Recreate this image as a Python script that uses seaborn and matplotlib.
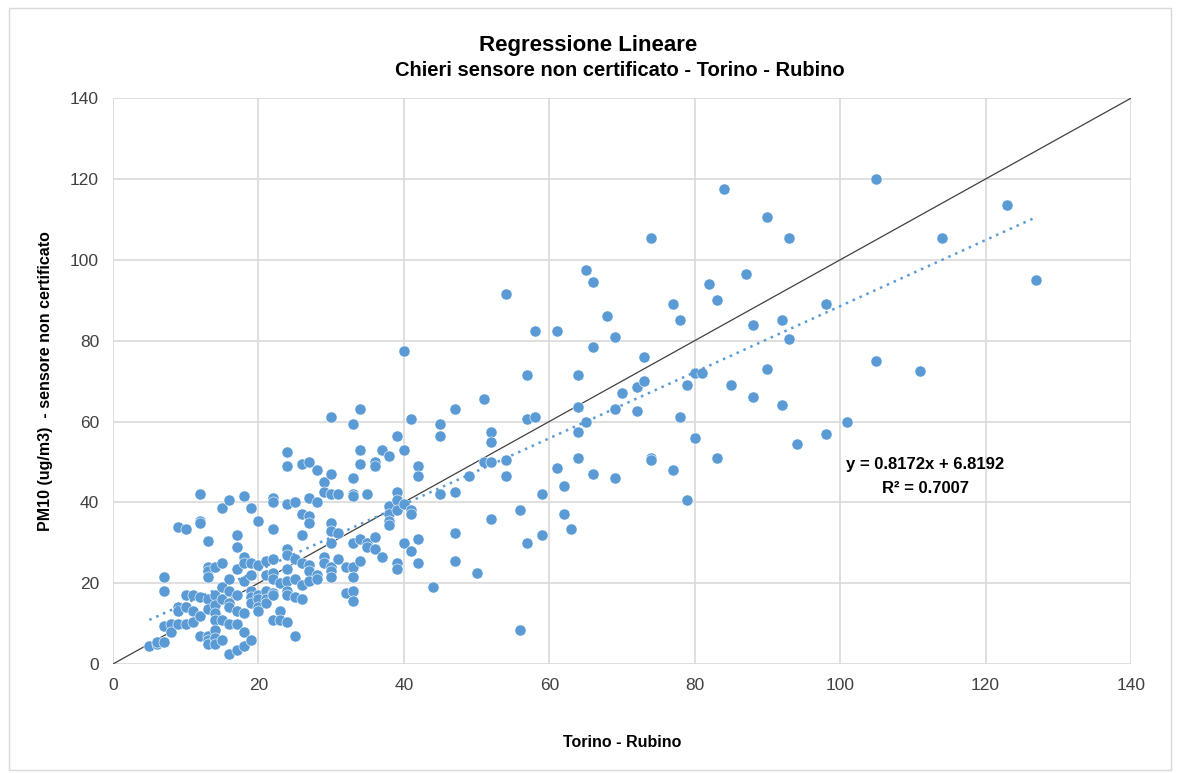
import numpy as np
import pandas as pd
import matplotlib.pyplot as plt
import seaborn as sns
from matplotlib.patches import Rectangle

# === Dati (Torino - Rubino vs sensore Chieri) ===
torino = [
    5, 6, 6, 7, 7, 7, 7, 8, 8, 9, 9, 9, 9, 10, 10, 10, 10, 11, 11, 11,
    12, 12, 12, 12, 12, 12, 13, 13, 13, 13, 13, 13, 13, 13, 13,
    14, 14, 14, 14, 14, 14, 14, 14, 15, 15, 15, 15, 15, 15,
    16, 16, 16, 16, 16, 16, 16, 17, 17, 17, 17, 17, 17, 17,
    18, 18, 18, 18, 18, 18, 18, 19, 19, 19, 19, 19, 19, 19,
    20, 20, 20, 20, 20, 20, 21, 21, 21, 21, 21,
    22, 22, 22, 22, 22, 22, 22, 22, 22, 23, 23, 23,
    24, 24, 24, 24, 24, 24, 24, 24, 24, 24, 25, 25, 25, 25, 25,
    26, 26, 26, 26, 26, 26, 27, 27, 27, 27, 27, 27, 27, 28, 28, 28, 28,
    29, 29, 29, 29, 30, 30, 30, 30, 30, 30, 30, 30, 30, 31, 31, 31, 32, 32,
    33, 33, 33, 33, 33, 33, 33, 33, 33, 34, 34, 34, 34, 34, 35, 35, 35,
    36, 36, 36, 36, 37, 37, 38, 38, 38, 38, 38, 39, 39, 39, 39, 39, 39,
    40, 40, 40, 40, 41, 41, 41, 41, 42, 42, 42, 42, 44, 45, 45, 45,
    47, 47, 47, 47, 49, 50, 51, 51, 52, 52, 52, 52, 54, 54, 54, 56, 56,
    57, 57, 57, 58, 58, 59, 59, 61, 61, 62, 62, 63, 64, 64, 64, 64, 65, 65,
    66, 66, 66, 68, 69, 69, 69, 70, 72, 72, 73, 73, 74, 74, 74, 77, 77,
    78, 78, 79, 79, 80, 80, 81, 82, 83, 83, 84, 85, 87, 88, 88, 90, 90,
    92, 92, 93, 93, 94, 98, 98, 101, 105, 105, 111, 114, 123, 127,
]
sensore = [
    4.5, 5, 5.5, 21.5, 18, 9.5, 5.5, 10, 8, 34, 14, 13, 10, 33.5, 17, 14, 10, 17, 13, 10.5,
    42, 35.5, 35, 16.5, 12, 7, 30.5, 24, 23, 21.5, 16, 13.5, 7, 6, 5,
    24, 17, 14.5, 12.5, 11, 8.5, 6.5, 5, 38.5, 25, 19, 16, 11, 6,
    40.5, 21, 18, 15, 14, 10, 2.5, 32, 29, 23.5, 17, 13, 10, 3.5,
    41.5, 26.5, 25, 20.5, 12.5, 8, 4.5, 38.5, 25, 22, 18, 16.5, 15, 6,
    35.5, 24.5, 17, 16, 14, 13, 25.5, 22, 18, 16, 15,
    41, 40, 33.5, 26, 22.5, 21, 17.5, 17, 11, 20, 13, 11,
    52.5, 49, 39.5, 28.5, 27, 23.5, 20.5, 18, 17, 10.5, 40, 26, 21, 16.5, 7,
    49.5, 37, 32, 25, 19.5, 16, 50, 41, 36.5, 35, 24.5, 23, 20.5, 48, 40, 22, 21,
    45, 42.5, 26.5, 25, 61, 47, 42, 35, 33, 30, 24, 23, 21.5, 42, 32.5, 26, 24, 17.5,
    59.5, 46, 42, 41.5, 30, 24, 21.5, 18, 15.5, 63, 53, 49.5, 31, 25.5, 42, 30, 29,
    50, 49, 31.5, 28.5, 53, 26.5, 51.5, 39, 37, 35.5, 34.5, 56.5, 42.5, 40.5, 38, 25, 23.5,
    77.5, 53, 39.5, 30, 60.5, 38, 37, 28, 49, 46.5, 31, 25, 19, 59.5, 56.5, 42,
    63, 42.5, 32.5, 25.5, 46.5, 22.5, 65.5, 50, 57.5, 55, 50, 36, 91.5, 50.5, 46.5, 38, 8.5,
    71.5, 60.5, 30, 82.5, 61, 42, 32, 82.5, 48.5, 44, 37, 33.5, 71.5, 63.5, 57.5, 51, 97.5, 60,
    94.5, 78.5, 47, 86, 81, 63, 46, 67, 68.5, 62.5, 76, 70, 105.5, 51, 50.5, 89, 48,
    85, 61, 69, 40.5, 72, 56, 72, 94, 90, 51, 117.5, 69, 96.5, 84, 66, 110.5, 73,
    85, 64, 105.5, 80.5, 54.5, 89, 57, 60, 120, 75, 72.5, 105.5, 113.5, 95,
]

# coefficienti della linea di tendenza riportati sul grafico
slope = 0.8172
intercept = 6.8192
r2 = 0.7007

df = pd.DataFrame({"torino": torino, "sensore": sensore})

# === Grafico ===
sns.set_style("white")
plt.rcParams["font.family"] = ["Liberation Sans", "DejaVu Sans"]

fig = plt.figure(figsize=(11.78, 7.73), dpi=100)
ax = fig.add_axes([0.0959, 0.141, 0.8642, 0.732])

# bordo dell'area del grafico
fig.patches.append(Rectangle((0.008, 0.004), 0.986, 0.986, transform=fig.transFigure,
                             fill=False, edgecolor="#d9d9d9", linewidth=1.0))

ax.set_xlim(0, 140)
ax.set_ylim(0, 140)
ax.set_xticks(range(0, 141, 20))
ax.set_yticks(range(0, 141, 20))
ax.grid(True, color="#d9d9d9", linewidth=1.2)
ax.set_axisbelow(True)
for s in ax.spines.values():
    s.set_visible(False)
ax.tick_params(axis="both", length=0, labelsize=12.5, colors="#404040", pad=10)

# bisettrice y = x
ax.plot([0, 140], [0, 140], color="#404040", linewidth=0.9, zorder=2)

sns.scatterplot(data=df, x="torino", y="sensore", ax=ax, color="#5b9bd5",
                s=64, edgecolor="white", linewidth=0.4, zorder=3)

# linea di tendenza lineare
xt = np.array([min(torino), max(torino)])
ax.plot(xt, slope * xt + intercept, color="#5b9bd5", linewidth=1.8,
        linestyle=(0, (1, 2)), zorder=4)

ax.text(111.7, 46.5, f"y = {slope:.4f}x + {intercept:.4f}\nR² = {r2:.4f}",
        ha="center", va="center", fontsize=12, fontweight="bold",
        color="#000000", linespacing=1.75, zorder=5)

ax.set_xlabel("Torino - Rubino", fontsize=11.5, fontweight="bold", labelpad=30,
              color="#000000")
ax.set_ylabel("PM10 (ug/m3)  - sensore non certificato", fontsize=11.5,
              fontweight="bold", labelpad=12, color="#000000")

# titolo su due righe
fig.text(588 / 1178, 1 - 45 / 773, "Regressione Lineare", ha="center", va="center",
         fontsize=16, fontweight="bold", color="#000000")
fig.text(620 / 1178, 1 - 70 / 773, "Chieri sensore non certificato - Torino - Rubino",
         ha="center", va="center", fontsize=14.5, fontweight="bold", color="#000000")

plt.savefig("out.png", dpi=100)
plt.close()
